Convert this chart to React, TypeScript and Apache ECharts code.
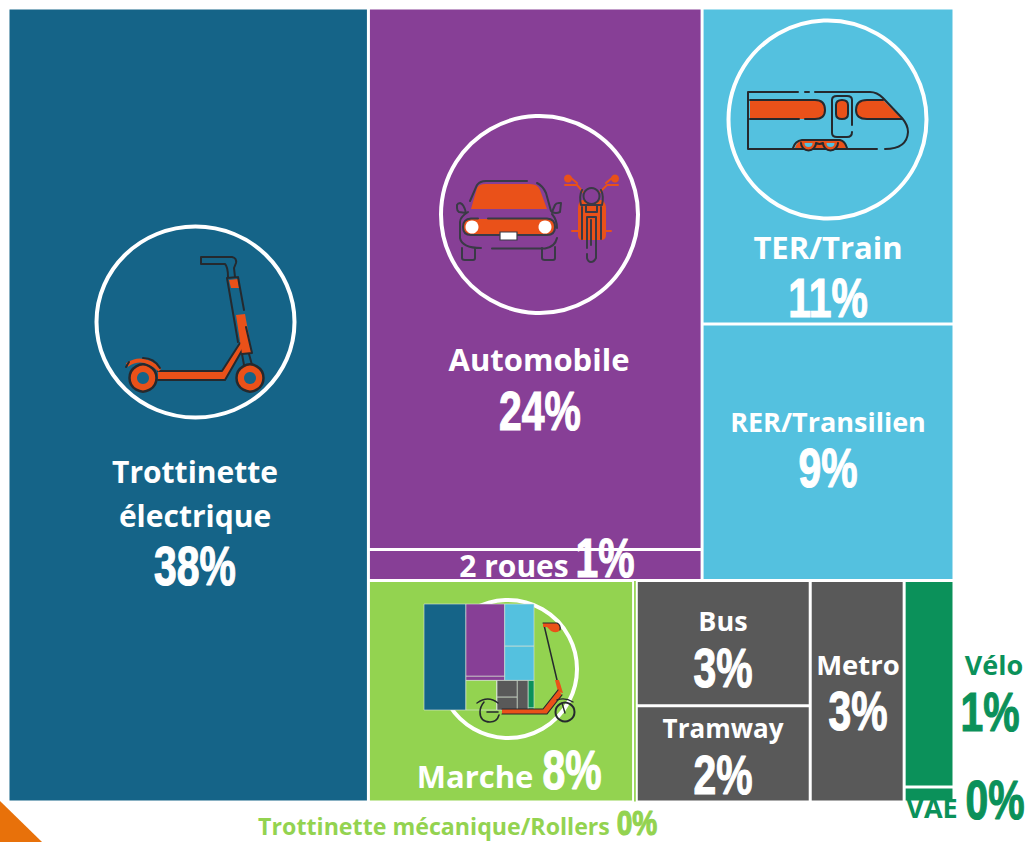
import React, { useEffect, useRef } from "react";
import * as echarts from "echarts";

// ---- data ----
const modeNames = ["Trottinette électrique", "Automobile", "2 roues", "TER/Train", "RER/Transilien", "Marche", "Trottinette mécanique/Rollers", "Bus", "Tramway", "Metro", "Vélo", "VAE"];
const modeShares = [38.1, 24.05, 1.38, 10.6, 8.6, 7.82, 0.08, 2.9, 2.23, 2.77, 1.37, 0.1];
const modeLabels = ["38%", "24%", "1%", "11%", "9%", "8%", "0%", "3%", "2%", "3%", "1%", "0%"];
const BLUE = "#156488", PURPLE = "#873F96", SKY = "#54C1DF", LIME = "#93D350", GRAY = "#595959", GREEN = "#0B915A";
const modeColors = [BLUE, PURPLE, PURPLE, SKY, SKY, LIME, LIME, GRAY, GRAY, GRAY, GREEN, GREEN];

const leaf = (i: number) => ({
  name: modeNames[i],
  value: modeShares[i],
  itemStyle: { color: modeColors[i], borderColor: "#fff", borderWidth: i === 6 ? 0.5 : 1.5 },
});
const group = (split: string, children: any[]) => ({ split, children, itemStyle: { borderWidth: 0, gapWidth: 0 } });

const tree = [
  leaf(0),
  group("v", [
    group("h", [group("v", [leaf(1), leaf(2)]), group("v", [leaf(3), leaf(4)])]),
    group("h", [
      group("h", [
        group("h", [group("h", [leaf(5), leaf(6)]), group("v", [leaf(7), leaf(8)])]),
        leaf(9),
      ]),
      group("v", [leaf(10), leaf(11)]),
    ]),
  ]),
];

// ---- helpers ----
const ORANGE = "#EA5119", DARK = "#25292E", DARK2 = "#3A3A46";
let shapeId = 0;
function shape(d: string, style: any) {
  const name = "icon" + shapeId++;
  echarts.graphic.registerShape(name, echarts.graphic.extendPath(d, {}) as any);
  return { type: name, x: 0, y: 0, silent: true, style };
}
const fill = (d: string, c = ORANGE) => shape(d, { fill: c, stroke: "none" });
const line = (d: string, c = DARK, w = 2) => shape(d, { fill: "none", stroke: c, lineWidth: w, lineCap: "round", lineJoin: "round" });
const ring = (cx: number, cy: number, r: number) => ({ type: "circle", silent: true, shape: { cx, cy, r }, style: { fill: "none", stroke: "#fff", lineWidth: 4 } });
const oval = (cx: number, cy: number, rx: number, ry: number) => ({ type: "ellipse", silent: true, shape: { cx, cy, rx, ry }, style: { fill: "none", stroke: "#fff", lineWidth: 4 } });
const disc = (cx: number, cy: number, r: number, f: string, s = "none", w = 0) => ({ type: "circle", silent: true, shape: { cx, cy, r }, style: { fill: f, stroke: s, lineWidth: w } });

const NAME_FONT = "'Open Sans', 'Noto Sans', sans-serif";
const NUM_FONT = "'Liberation Sans', Arial, sans-serif";
const name = (text: string, x: number, y: number, size = 30, fillC = "#fff", align = "center") => ({
  type: "text", x, y, silent: true,
  style: { text, fontFamily: NAME_FONT, fontWeight: 700, fontSize: size, fill: fillC, textAlign: align, textVerticalAlign: "middle" },
});
const num = (text: string, x: number, y: number, size = 56, fillC = "#fff", sx = 0.73) => ({
  type: "text", x, y, silent: true, scaleX: sx, scaleY: 1,
  style: { text, fontFamily: NUM_FONT, fontWeight: 700, fontSize: size, fill: fillC, stroke: fillC, lineWidth: 1.2, textAlign: "center", textVerticalAlign: "middle" },
});

function miniRects(nodes: any[], split: string, x: number, y: number, w: number, h: number, out: any[]) {
  const size = (n: any): number => (n.children ? n.children.reduce((a: number, c: any) => a + size(c), 0) : n.value);
  const total = nodes.reduce((a, n) => a + size(n), 0);
  let pos = split === "h" ? x : y;
  nodes.forEach((n) => {
    const len = (size(n) / total) * (split === "h" ? w : h);
    const rx = split === "h" ? pos : x, ry = split === "h" ? y : pos;
    const rw = split === "h" ? len : w, rh = split === "h" ? h : len;
    if (n.children) miniRects(n.children, n.split, rx, ry, rw, rh, out);
    else out.push({ type: "rect", silent: true, shape: { x: rx, y: ry, width: rw, height: rh }, style: { fill: n.itemStyle.color, stroke: "#DDE6DD", lineWidth: 0.6 } });
    pos += len;
  });
  return out;
}

function icons() {
  const scooter = [
    oval(195.5, 322, 99, 95.5),
    fill("M158 371 L222 371 L240 343 L244 347 L225 380 L158 380 Z"),
    line("M158 371 L222 371 L240 343 M244 347 L225 380 L158 380"),
    fill("M236 315 L245 314 L252 353 L242 354 Z"),
    fill("M229 280 L238 279 L239 288 L231 288 Z"),
    line("M201 257 L232 257 Q237 258 236 263 L234 268 L235 277 M201 257 L201 264 L225 264 Q228 267 228 277"),
    line("M227 278 L238 277 M227 278 L238 342 M238 277 L244 310 M246 327 L252 353 L242 354 L244 365 M249 354 L252 365"),
    disc(143, 378, 13.5, ORANGE, DARK, 2.5),
    disc(143, 378, 6, BLUE),
    disc(250, 378, 13.5, ORANGE, DARK, 2.5),
    disc(250, 378, 6, BLUE),
    shape("M127 365 Q143 354 160 370", { fill: "none", stroke: ORANGE, lineWidth: 4 }),
    line("M126 367 L129 362 M143 358 Q154 358 160 368"),
  ];
  const vehicles = [
    ring(539.5, 214.5, 98.5),
    fill("M471 209 L477 188 Q479 184 485 184 L530 184 Q538 184 540 190 L547 209 Z"),
    fill("M471 219 L547 219 Q555 219 555 227 Q555 235 547 235 L471 235 Q463 235 463 227 Q463 219 471 219 Z"),
    disc(472, 227, 6.5, "#fff"),
    disc(545, 227, 6.5, "#fff"),
    line("M488 218.5 L547 218.5 Q555 219 555 227 Q555 235 547 235 L471 235 Q463 235 463 227 Q463 219 471 218.5 L478 218.5", DARK2),
    line("M470 201 L477 185 Q480 181 486 181 L527 181 M537 183 Q543 186 546 193 L551 211", DARK2),
    line("M468 212 Q460 217 460 222 L460 238 Q462 248 481 248 M492 248.5 L545 248.5 Q555 247 557 238 M557 228 Q557 220 552 214", DARK2),
    line("M462 248 L462 258 Q462 260 465 260 L473 260 Q475 260 475 258 L475 248 M542 248 L542 258 Q542 260 545 260 L553 260 Q555 260 555 258 L555 247", DARK2),
    line("M457 205 Q458 203 460 203 Q464 204 466 213 L459 212 Q457 211 457 208 Z M552 212 L555 205 Q556 203 559 203 L561 203 L560 212 Q556 214 552 212 Z", DARK2),
    shape("M500 232 L517 232 L517 240 L500 240 Z", { fill: "#fff", stroke: DARK2, lineWidth: 1.2 }),
    fill("M582 200 L601 200 Q606 202 606 208 L606 235 Q606 240 601 240 L582 240 Q578 240 578 235 L578 208 Q578 202 582 200 Z"),
    disc(568, 178.5, 4, ORANGE),
    disc(615, 178.5, 4, ORANGE),
    line("M565 185 L577 185 L583 192 M618 185 L607 185 L600 192 M572 231 L611 231 M571 178 L577 183 M612 178 L606 183", ORANGE, 2),
    disc(591.5, 196, 8, PURPLE, DARK2, 2),
    line("M582 190 Q579 196 581 205 L602 205 Q604 196 601 190 M586 205 L597 205 L597 212 L586 212 Z M582 207 L582 239 M601 207 L601 239", DARK2),
    line("M587 217 L596 217 L596 258 Q594 262 591 262 Q588 262 587 258 L587 254 M587 248 L587 217 M591 220 L591 245", DARK2),
  ];
  const train = [
    ring(827.5, 119.5, 99),
    fill("M750 100 L815 100 Q825 100 825 110 Q825 119 815 119 L750 119 Z"),
    fill("M867 100 L883 100 L902 119 L867 119 Q856 119 856 110 Q856 100 867 100 Z"),
    fill("M836 105 Q836 100 842 100 Q848 100 848 105 L848 114 Q848 119 842 119 Q836 119 836 114 Z"),
    fill("M795 148 Q797 141 803 140 L840 140 Q845 141 846 148 Z"),
    line("M748 92 L798 92 M805 92 L809 92 M815 92 L870 92 Q877 92 883 98 L902 118 Q908 125 908 132 Q907 149 885 149 M748 92 L748 149 L877 149", DARK, 2),
    line("M750 119 L799 119 M805 119 L815 119 Q825 119 825 110 Q825 100 815 100 L750 100 M902 119 L867 119 Q856 119 856 110 Q856 100 867 100 L883 100", DARK, 2),
    line("M852 125 L852 100 Q852 96 847 96 L837 96 Q832 96 832 100 L832 133 Q832 137 837 137 L847 137 Q852 137 852 132 M836 105 Q836 100 842 100 Q848 100 848 105 L848 114 Q848 119 842 119 Q836 119 836 114 Z", DARK, 2),
    fill("M801 143 A7.5 7.5 0 0 0 816 143 Z M823 143 A7.5 7.5 0 0 0 838 143 Z"),
    fill("M804.5 143 A4 4 0 0 0 812.5 143 Z M826.5 143 A4 4 0 0 0 834.5 143 Z", SKY),
    line("M793 148 Q795 141 802 140 L840 140 Q845 141 847 148 M801 143 A7.5 7.5 0 0 0 816 143 A7.5 7.5 0 0 0 823 143 A7.5 7.5 0 0 0 838 143", DARK, 2),
  ];
  const scooter2 = [
    line("M544 625 L557 680", DARK, 1.5),
    fill("M543 623 L557 623 Q561 625 560 630 Q557 634 551 631 L547 627 L543 627 Z"),
    line("M543 623 L557 623 Q561 625 560 630", DARK, 1.2),
    fill("M555 680 L559 680 L563 693 L558 692 Z"),
    fill("M502 709 L543 709 L558 690 L562 695 L547 714 L502 714 Z"),
    line("M502 709 L543 709 L558 690 M562 695 L547 714 L502 714", DARK, 1.2),
    disc(565, 712, 9.5, "none", DARK, 2),
    line("M484 702 Q480 707 480 712 Q480 722 490 722 Q497 722 499 715 M487 712 L498 712", DARK, 1.6),
    line("M477 703 Q488 695 498 703 M557 700 Q565 697 573 702 M562 703 L565 713", DARK, 1.4),
  ];
  const thumbnail = miniRects(tree, "h", 424, 604, 110, 106, []);
  return [...scooter, ...vehicles, ...train, ring(508, 669, 69), ...thumbnail, ...scooter2];
}

function labels() {
  return [
    name("Trottinette", 195, 471), name("électrique", 195, 515), num(modeLabels[0], 195, 566),
    name(modeNames[1], 539, 359, 31), num(modeLabels[1], 540, 411),
    name(modeNames[2], 514, 565), num(modeLabels[2], 605, 558),
    name(modeNames[3], 828, 247, 31), num(modeLabels[3], 828, 298),
    name(modeNames[4], 828, 421, 27), num(modeLabels[4], 828, 468),
    name(modeNames[5], 475, 776, 31), num(modeLabels[5], 572, 770),
    name(modeNames[7], 723, 620, 27), num(modeLabels[7], 723, 668),
    name(modeNames[8], 723, 728, 26), num(modeLabels[8], 723, 775),
    name(modeNames[9], 858, 664, 27.5), num(modeLabels[9], 858, 711),
    name(modeNames[10], 994, 664, 27, GREEN), num(modeLabels[10], 990, 712, 56, GREEN),
    name(modeNames[11], 932, 807, 27, GREEN), num(modeLabels[11], 995, 800, 56, GREEN),
    name(modeNames[6], 434, 826, 23.2, LIME), num(modeLabels[6], 637, 823, 36, LIME, 0.78),
  ];
}

export default function App() {
  const ref = useRef<HTMLDivElement>(null);
  useEffect(() => {
    const chart = echarts.init(ref.current!, undefined, { renderer: "svg" });
    const corner = { type: "polygon", silent: true, shape: { points: [[0, 801], [42, 842], [0, 842]] }, style: { fill: "#E8710A" } };
    const elements = [corner, ...icons(), ...labels()].map((e: any, i) => ({ ...e, z: 10 + i }));
    chart.setOption({
      animation: false,
      backgroundColor: "#fff",
      graphic: { elements },
      series: [
        {
          type: "treemap",
          left: 8, top: 8, width: 946, height: 794,
          sort: false,
          squareRatio: 1,
          roam: false,
          nodeClick: false,
          silent: true,
          visibleMin: 0,
          breadcrumb: { show: false },
          label: { show: false },
          upperLabel: { show: false },
          itemStyle: { gapWidth: 0, borderWidth: 0 },
          data: tree,
        },
      ],
    } as any);
    return () => chart.dispose();
  }, []);
  return <div ref={ref} style={{ position: "absolute", left: 0, top: 0, width: 1029, height: 842 }} />;
}
